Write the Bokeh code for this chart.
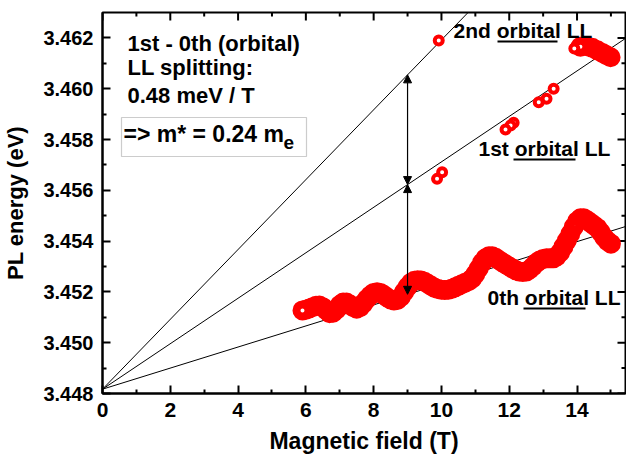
from bokeh.plotting import figure
from bokeh.models import (Range1d, Label, Arrow, NormalHead,
                          BoxAnnotation, FixedTicker, NumeralTickFormatter)
from bokeh.embed import file_html
from bokeh.resources import INLINE

# ---------------- data ----------------
field_0th = [5.9, 6.0, 6.1, 6.2, 6.3, 6.4, 6.5, 6.6, 6.7, 6.8, 6.9,
             7.0, 7.1, 7.2, 7.3, 7.4, 7.5, 7.6, 7.7, 7.8, 7.9,
             8.0, 8.1, 8.2, 8.3, 8.4, 8.5, 8.6, 8.7, 8.8, 8.9,
             9.0, 9.1, 9.2, 9.3, 9.4, 9.5, 9.6, 9.7, 9.8, 9.9,
             10.0, 10.1, 10.2, 10.3, 10.4, 10.5, 10.6, 10.7, 10.8, 10.9,
             11.0, 11.1, 11.2, 11.3, 11.4, 11.5, 11.6, 11.7, 11.8, 11.9,
             12.0, 12.1, 12.2, 12.3, 12.4, 12.5, 12.6, 12.7, 12.8, 12.9,
             13.0, 13.1, 13.2, 13.3, 13.4, 13.5, 13.6, 13.7, 13.8, 13.9,
             14.0, 14.1, 14.2, 14.3, 14.4, 14.5, 14.6, 14.7, 14.8, 14.9, 15.0]
energy_0th = [3.45127, 3.45130, 3.45135, 3.45140, 3.45145, 3.45146, 3.45140, 3.45128, 3.45116, 3.45118, 3.45130,
              3.45148, 3.45158, 3.45158, 3.45150, 3.45140, 3.45134, 3.45140, 3.45155, 3.45172, 3.45186,
              3.45196, 3.45199, 3.45196, 3.45188, 3.45178, 3.45170, 3.45166, 3.45168, 3.45180, 3.45200,
              3.45220, 3.45236, 3.45244, 3.45246, 3.45245, 3.45240, 3.45232, 3.45224, 3.45216, 3.45211,
              3.45208, 3.45207, 3.45208, 3.45212, 3.45218, 3.45224, 3.45230, 3.45236, 3.45242, 3.45252,
              3.45270, 3.45292, 3.45315, 3.45332, 3.45340, 3.45340, 3.45334, 3.45325, 3.45316, 3.45308,
              3.45300, 3.45292, 3.45285, 3.45280, 3.45278, 3.45280, 3.45288, 3.45300, 3.45314, 3.45324,
              3.45330, 3.45332, 3.45332, 3.45332, 3.45340, 3.45355, 3.45378, 3.45402, 3.45428, 3.45455,
              3.45478, 3.45490, 3.45490, 3.45482, 3.45472, 3.45462, 3.45452, 3.45435, 3.45415, 3.45400, 3.45390]

field_1st = [9.87, 10.02, 11.89, 12.04, 12.13, 12.87, 13.10, 13.31]
energy_1st = [3.45645, 3.45671, 3.45839, 3.45855, 3.45866, 3.45947, 3.45960, 3.46000]

field_2nd = [9.92, 13.92, 14.10, 14.28, 14.45, 14.60, 14.75, 14.87, 14.99]
energy_2nd = [3.46190, 3.46158, 3.46165, 3.46167, 3.46161, 3.46151, 3.46141, 3.46132, 3.46124]

# fitted Landau-level lines: E = E0 + slope * B
E0 = 3.44817
slope_ll = [0.000415, 0.000895, 0.001375]   # eV/T : 0th, 1st, 2nd
arrow_field = 9.0

x_ticks = [0, 2, 4, 6, 8, 10, 12, 14]
x_minor = [1, 3, 5, 7, 9, 11, 13, 15]
y_ticks = [3.448, 3.450, 3.452, 3.454, 3.456, 3.458, 3.460, 3.462]
y_minor = [3.449, 3.451, 3.453, 3.455, 3.457, 3.459, 3.461]

X0, X1 = 0.0, 15.43
Y0, Y1 = 3.448, 3.463

# ---------------- layout helpers ----------------
FL, FR, FT, FB = 102, 625, 12, 393   # frame edges in pixels
DX = (X1 - X0) / (FR - FL)           # data units per pixel
DY = (Y1 - Y0) / (FB - FT)


def px_x(px):
    return X0 + (px - FL) * DX


def px_y(py):
    return Y0 + (FB - py) * DY


FONT = "Liberation Sans"
RED = "#ff0000"

p = figure(width=626, height=457, output_backend="svg", toolbar_location=None,
           x_range=Range1d(X0, X1), y_range=Range1d(Y0, Y1),
           min_border_left=FL, min_border_right=626 - FR, min_border_top=FT,
           min_border_bottom=457 - FB)
p.grid.visible = False
p.outline_line_color = "black"
p.outline_line_width = 2
p.background_fill_color = "white"
p.border_fill_color = "white"

xt = FixedTicker(ticks=x_ticks, minor_ticks=x_minor)
yt = FixedTicker(ticks=y_ticks, minor_ticks=y_minor)

for ax in p.xaxis:
    ax.ticker = xt
    ax.axis_label = "Magnetic field (T)"
    ax.axis_label_text_font_size = "23px"
    ax.axis_label_standoff = 8
    ax.major_label_text_font_size = "21px"
    ax.major_label_standoff = 9
for ax in p.yaxis:
    ax.ticker = yt
    ax.formatter = NumeralTickFormatter(format="0.000")
    ax.axis_label = "PL energy (eV)"
    ax.axis_label_text_font_size = "22px"
    ax.axis_label_standoff = 12
    ax.major_label_text_font_size = "20px"
    ax.major_label_standoff = 9
for ax in (p.xaxis[0], p.yaxis[0]):
    ax.axis_label_text_font = FONT
    ax.axis_label_text_font_style = "bold"
    ax.axis_label_text_color = "black"
    ax.major_label_text_font = FONT
    ax.major_label_text_font_style = "bold"
    ax.major_label_text_color = "black"
    ax.axis_line_width = 2
    ax.axis_line_color = "black"
    ax.major_tick_in = 8
    ax.major_tick_out = 0
    ax.minor_tick_in = 4
    ax.minor_tick_out = 0
    ax.major_tick_line_width = 2
    ax.minor_tick_line_width = 2
    ax.major_tick_line_color = "black"
    ax.minor_tick_line_color = "black"

# mirrored inward ticks on the top and right frame edges (from the tick lists)
for ticks, ln in [(x_ticks, 8), (x_minor, 4)]:
    p.segment(x0=ticks, y0=[Y1] * len(ticks), x1=ticks, y1=[Y1 - ln * DY] * len(ticks),
              line_color="black", line_width=2)
for ticks, ln in [(y_ticks, 8), (y_minor, 4)]:
    p.segment(x0=[X1] * len(ticks), y0=ticks, x1=[X1 - ln * DX] * len(ticks), y1=ticks,
              line_color="black", line_width=2)

# fitted lines
for s in slope_ll:
    p.line([X0, X1], [E0 + s * X0, E0 + s * X1], line_color="black", line_width=1)

# arrows between levels at B = arrow_field
levels = [E0 + s * arrow_field for s in slope_ll]
for lo, hi in [(levels[0], levels[1]), (levels[1], levels[2])]:
    p.add_layout(Arrow(x_start=arrow_field, y_start=lo, x_end=arrow_field, y_end=hi,
                       line_color="black", line_width=1.2,
                       start=NormalHead(size=8, fill_color="black", line_color="black"),
                       end=NormalHead(size=8, fill_color="black", line_color="black")))

# data points (high field first so the low-field rings end up on top)
p.scatter(field_0th[::-1], energy_0th[::-1], marker="circle", size=12, fill_color="white",
          line_color=RED, line_width=8)
p.scatter(field_2nd[2:][::-1], energy_2nd[2:][::-1], marker="circle", size=12,
          fill_color="white", line_color=RED, line_width=8)
p.scatter(field_2nd[:2][::-1], energy_2nd[:2][::-1], marker="circle", size=8,
          fill_color="white", line_color=RED, line_width=4)
p.scatter(field_1st[::-1], energy_1st[::-1], marker="circle", size=8, fill_color="white",
          line_color=RED, line_width=4)


# texts
def lab(text, px, py, size="21px"):
    p.add_layout(Label(x=px_x(px), y=px_y(py), text=text, text_font=FONT,
                       text_font_style="bold", text_font_size=size,
                       text_color="black", text_align="left",
                       text_baseline="alphabetic"))


SH = 7   # baseline correction (pixels)
lab("1st - 0th (orbital)", 127, 50 - SH, "22px")
lab("LL splitting:", 127, 74 - SH, "22px")
lab("0.48 meV / T", 127, 102 - SH, "22px")
lab("=> m* = 0.24 m", 123, 140 - SH, "23px")
lab("e", 283, 149 - SH, "19px")
p.add_layout(BoxAnnotation(left=px_x(121), right=px_x(306), top=px_y(117), bottom=px_y(156),
                           fill_alpha=0, line_color="#555555", line_width=1.2))

lab("2nd orbital LL", 453, 37 - SH)
lab("1st orbital LL", 478, 155 - SH)
lab("0th orbital LL", 487, 304 - SH)

for x_a, x_b, py in [(497, 557, 41), (513, 575, 159), (523, 585, 308)]:
    p.segment(x0=[px_x(x_a)], y0=[px_y(py)], x1=[px_x(x_b)], y1=[px_y(py)],
              line_color="black", line_width=2)

open("out.html", "w").write(file_html(p, INLINE))
